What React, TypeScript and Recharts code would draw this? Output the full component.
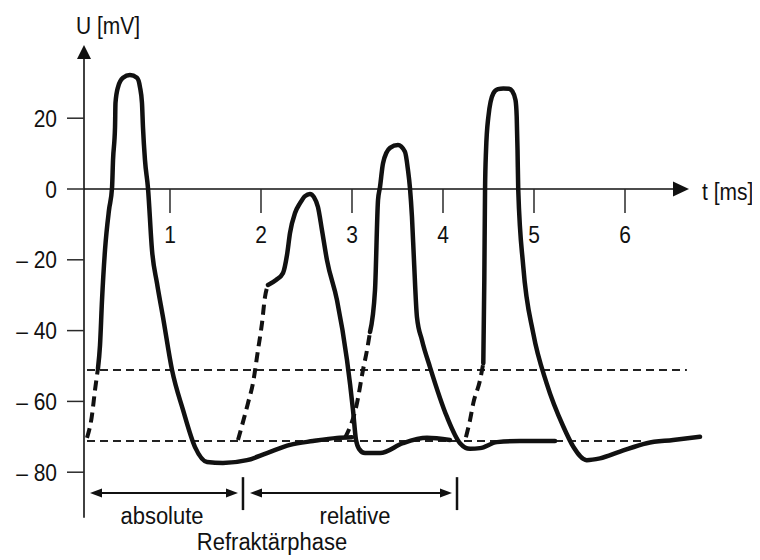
import { ComposedChart, Line, XAxis, YAxis, ReferenceLine, ReferenceDot } from 'recharts';

type Pt = { t: number; u: number };

// membrane potential, solid parts of the four action potentials (t in ms, u in mV)
const spike1: Pt[] = [
  { t: 0.209, u: -50.6 }, { t: 0.231, u: -44.1 }, { t: 0.253, u: -31.4 }, { t: 0.286, u: -17.2 },
  { t: 0.33, u: -5.9 }, { t: 0.363, u: 0.3 }, { t: 0.374, u: 8.2 }, { t: 0.396, u: 17.5 },
  { t: 0.401, u: 24.3 }, { t: 0.429, u: 28.8 }, { t: 0.484, u: 31.4 }, { t: 0.56, u: 32.2 },
  { t: 0.637, u: 31.4 }, { t: 0.67, u: 28.8 }, { t: 0.692, u: 24.3 }, { t: 0.703, u: 17.5 },
  { t: 0.725, u: 8.2 }, { t: 0.758, u: 0.3 }, { t: 0.802, u: -17.2 }, { t: 0.857, u: -26.6 },
  { t: 0.923, u: -36.2 }, { t: 1.022, u: -51.1 }, { t: 1.143, u: -62.4 }, { t: 1.275, u: -72.9 },
  { t: 1.407, u: -77.1 }, { t: 1.582, u: -77.4 }, { t: 1.846, u: -76.6 }, { t: 2.066, u: -74.6 },
  { t: 2.319, u: -72.3 }, { t: 2.571, u: -71.2 }, { t: 2.835, u: -70.3 }, { t: 3.0, u: -70.1 },
];

const spike2: Pt[] = [
  { t: 2.077, u: -27.1 }, { t: 2.165, u: -25.7 }, { t: 2.242, u: -23.7 }, { t: 2.286, u: -18.6 },
  { t: 2.319, u: -12.4 }, { t: 2.374, u: -6.8 }, { t: 2.429, u: -4.0 }, { t: 2.484, u: -2.0 },
  { t: 2.538, u: -1.4 }, { t: 2.582, u: -2.3 }, { t: 2.626, u: -5.1 }, { t: 2.67, u: -11.6 },
  { t: 2.725, u: -20.1 }, { t: 2.835, u: -31.4 }, { t: 2.945, u: -48.3 }, { t: 3.011, u: -62.4 },
  { t: 3.044, u: -70.9 }, { t: 3.077, u: -73.4 }, { t: 3.143, u: -74.6 }, { t: 3.308, u: -74.6 },
  { t: 3.56, u: -71.8 }, { t: 3.824, u: -70.3 }, { t: 4.077, u: -70.9 },
];

const spike3: Pt[] = [
  { t: 3.198, u: -40.4 }, { t: 3.253, u: -28.5 }, { t: 3.286, u: -3.1 }, { t: 3.308, u: 0.6 },
  { t: 3.341, u: 7.3 }, { t: 3.418, u: 11.6 }, { t: 3.505, u: 12.4 }, { t: 3.582, u: 10.5 },
  { t: 3.615, u: 5.4 }, { t: 3.637, u: 0.3 }, { t: 3.659, u: -7.9 }, { t: 3.681, u: -20.1 },
  { t: 3.714, u: -36.2 }, { t: 3.769, u: -42.7 }, { t: 3.857, u: -50.3 }, { t: 4.044, u: -64.4 },
  { t: 4.187, u: -71.8 }, { t: 4.297, u: -73.4 }, { t: 4.407, u: -73.2 }, { t: 4.593, u: -71.5 },
  { t: 4.846, u: -71.2 }, { t: 5.231, u: -71.2 },
];

const spike4: Pt[] = [
  { t: 4.443, u: -49.2 }, { t: 4.454, u: -25.7 }, { t: 4.462, u: -0.3 }, { t: 4.473, u: 11.0 },
  { t: 4.498, u: 20.3 }, { t: 4.553, u: 27.0 }, { t: 4.604, u: 28.2 }, { t: 4.663, u: 28.4 },
  { t: 4.725, u: 28.3 }, { t: 4.762, u: 27.6 }, { t: 4.797, u: 25.1 }, { t: 4.81, u: 20.4 },
  { t: 4.819, u: 11.0 }, { t: 4.827, u: -0.3 }, { t: 4.882, u: -21.9 }, { t: 4.992, u: -40.8 },
  { t: 5.139, u: -54.9 }, { t: 5.322, u: -67.1 }, { t: 5.432, u: -72.8 }, { t: 5.579, u: -76.6 },
  { t: 5.725, u: -76.1 }, { t: 5.945, u: -74.2 }, { t: 6.238, u: -71.8 }, { t: 6.53, u: -70.9 },
  { t: 6.824, u: -70.0 },
];

// dashed upstrokes from the resting level to the solid part
const rise1: Pt[] = [{ t: 0.088, u: -70.3 }, { t: 0.14, u: -64.4 }, { t: 0.176, u: -56.8 }, { t: 0.209, u: -50.6 }];
const rise2: Pt[] = [
  { t: 1.747, u: -70.9 }, { t: 1.857, u: -60.5 }, { t: 1.912, u: -54.8 }, { t: 1.967, u: -45.5 },
  { t: 2.011, u: -37.9 }, { t: 2.044, u: -30.5 }, { t: 2.077, u: -27.1 },
];
const rise3: Pt[] = [{ t: 2.923, u: -70.3 }, { t: 3.055, u: -60.5 }, { t: 3.121, u: -51.1 }, { t: 3.165, u: -45.5 }, { t: 3.198, u: -40.4 }];
const rise4: Pt[] = [{ t: 4.252, u: -70.1 }, { t: 4.297, u: -65.3 }, { t: 4.333, u: -60.5 }, { t: 4.407, u: -54.0 }, { t: 4.443, u: -49.2 }];

// threshold and resting potential, with the time span they are drawn over
const thresholdU = -51.1;
const thresholdSpan = [0.088, 6.68];
const restU = -71.2;
const restSpan = [0.088, 6.2];

const xTicks = [1, 2, 3, 4, 5, 6];
const yTicks = [-80, -60, -40, -20, 0, 20];

// refractory periods (ms)
const absoluteSpan = [0.121, 1.747];
const relativeSpan = [1.879, 4.099];
const phaseBounds = [1.802, 4.154];
const phaseNames = ['absolute', 'relative'];
const phaseTitle = 'Refraktärphase';
const yTitle = 'U [mV]';
const xTitle = 't [ms]';

const X_MIN = 0.055;
const X_MAX = 7.4835;
const Y_MIN = -104.8;
const Y_MAX = 51.13;
const INK = '#111';
const AXIS = '#2a2a2a';
const FONT = "'Liberation Sans', Arial, sans-serif";
const STRETCH = 1.12;

const Txt = ({ x, y, anchor = 'middle', size = 21, children }: any) => (
  <text
    transform={`translate(${x},${y}) scale(1,${STRETCH})`}
    textAnchor={anchor}
    fontSize={size}
    fill={INK}
    fontFamily={FONT}
  >
    {children}
  </text>
);

const textAt = (text: string, anchor = 'middle', size = 21) => (p: any) => (
  <Txt x={p.cx} y={p.cy} anchor={anchor} size={size}>{text}</Txt>
);

const fmtU = (v: number) => (v < 0 ? `– ${Math.abs(v)}` : `${v}`);

const YTick = (p: any) => (
  <Txt x={p.x} y={p.y + 8.5} anchor="end">{fmtU(p.payload.value)}</Txt>
);

const arrow = (both: boolean, len: number, half: number, width: number) => (p: any) => {
  const { x1, y1, x2, y2 } = p;
  const d = Math.hypot(x2 - x1, y2 - y1) || 1;
  const ux = (x2 - x1) / d;
  const uy = (y2 - y1) / d;
  const head = (tx: number, ty: number, sx: number, sy: number) => {
    const bx = tx - sx * len;
    const by = ty - sy * len;
    return `${tx},${ty} ${bx - sy * half},${by + sx * half} ${bx + sy * half},${by - sx * half}`;
  };
  return (
    <g>
      <line
        x1={both ? x1 + ux * len * 0.7 : x1}
        y1={both ? y1 + uy * len * 0.7 : y1}
        x2={x2 - ux * len * 0.7}
        y2={y2 - uy * len * 0.7}
        stroke={INK}
        strokeWidth={width}
      />
      <polygon points={head(x2, y2, ux, uy)} fill={INK} />
      {both && <polygon points={head(x1, y1, -ux, -uy)} fill={INK} />}
    </g>
  );
};

const solid = { dataKey: 'u', type: 'monotone' as const, dot: false, stroke: INK, strokeWidth: 4.5, strokeLinecap: 'round' as const, strokeLinejoin: 'round' as const, isAnimationActive: false };
const dashed = { ...solid, strokeWidth: 4, strokeDasharray: '10 6', strokeLinecap: 'butt' as const };

export default function App() {
  return (
    <ComposedChart width={752} height={552} margin={{ top: 0, right: 0, bottom: 0, left: 0 }} style={{ fontFamily: FONT }}>
      <XAxis type="number" dataKey="t" domain={[X_MIN, X_MAX]} allowDataOverflow hide height={0} />
      <YAxis
        type="number"
        domain={[Y_MIN, Y_MAX]}
        allowDataOverflow
        ticks={yTicks}
        interval={0}
        width={76}
        tickSize={17}
        tickMargin={10}
        axisLine={false}
        tickLine={{ stroke: AXIS, strokeWidth: 1.5 }}
        tick={YTick}
      />

      {/* axes with arrowheads */}
      <ReferenceLine segment={[{ x: X_MIN, y: -92.9 }, { x: X_MIN, y: 40.7 }]} shape={arrow(false, 14, 7, 1.6)} />
      <ReferenceLine segment={[{ x: X_MIN, y: 0 }, { x: 6.703, y: 0 }]} shape={arrow(false, 16, 7.5, 1.6)} />
      {xTicks.map((t) => (
        <ReferenceLine key={`tk${t}`} segment={[{ x: t, y: 0 }, { x: t, y: -6.8 }]} stroke={AXIS} strokeWidth={1.5} />
      ))}
      {xTicks.map((t) => (
        <ReferenceDot key={`tl${t}`} x={t} y={-15.3} r={0} shape={textAt(String(t))} />
      ))}
      <ReferenceDot x={0.319} y={43.8} r={0} shape={textAt(yTitle)} />
      <ReferenceDot x={6.846} y={-3.1} r={0} shape={textAt(xTitle, 'start')} />

      {/* threshold and resting level */}
      <ReferenceLine segment={[{ x: thresholdSpan[0], y: thresholdU }, { x: thresholdSpan[1], y: thresholdU }]} stroke="#222" strokeWidth={2} strokeDasharray="8 5" />
      <ReferenceLine segment={[{ x: restSpan[0], y: restU }, { x: restSpan[1], y: restU }]} stroke="#222" strokeWidth={2} strokeDasharray="8 5" />

      <Line data={rise1} {...dashed} />
      <Line data={rise2} {...dashed} />
      <Line data={rise3} {...dashed} />
      <Line data={rise4} {...dashed} />
      <Line data={spike1} {...solid} />
      <Line data={spike2} {...solid} />
      <Line data={spike3} {...solid} />
      <Line data={spike4} {...solid} />

      {/* refractory periods */}
      <ReferenceLine segment={[{ x: absoluteSpan[0], y: -85.9 }, { x: absoluteSpan[1], y: -85.9 }]} shape={arrow(true, 12, 4.5, 2)} />
      <ReferenceLine segment={[{ x: relativeSpan[0], y: -85.9 }, { x: relativeSpan[1], y: -85.9 }]} shape={arrow(true, 12, 4.5, 2)} />
      {phaseBounds.map((t) => (
        <ReferenceLine key={`pb${t}`} segment={[{ x: t, y: -81.4 }, { x: t, y: -90.7 }]} stroke={INK} strokeWidth={2.5} />
      ))}
      <ReferenceDot x={0.912} y={-94.6} r={0} shape={textAt(phaseNames[0], 'middle', 22)} />
      <ReferenceDot x={3.033} y={-94.6} r={0} shape={textAt(phaseNames[1], 'middle', 22)} />
      <ReferenceDot x={2.121} y={-102.0} r={0} shape={textAt(phaseTitle, 'middle', 22)} />
    </ComposedChart>
  );
}
